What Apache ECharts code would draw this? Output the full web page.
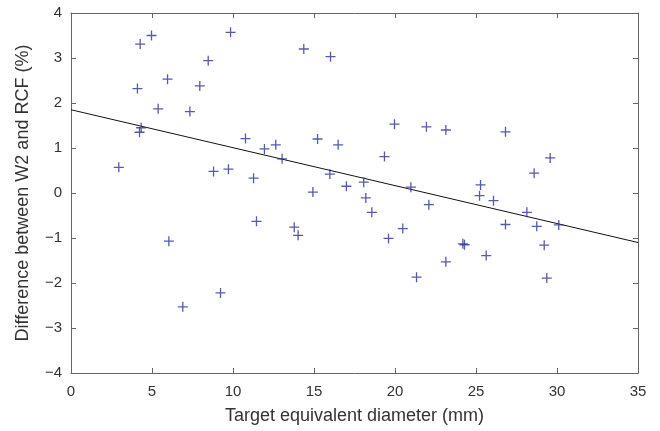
<!DOCTYPE html>
<html>
<head>
<meta charset="utf-8">
<script src="https://cdn.jsdelivr.net/npm/echarts@6/dist/echarts.min.js"></script>
<style>
  html, body { margin: 0; padding: 0; background: #fff; }
  #main { width: 660px; height: 431px; }
</style>
</head>
<body>
<div id="main"></div>
<script>
// measured points: target diameter (mm) vs difference (%)
var diamX = [2.95, 4.27, 4.97, 4.10, 5.96, 5.38, 4.23, 4.33, 8.47, 7.95, 7.34, 9.85,
  10.77, 8.80, 9.72, 11.27, 14.37, 16.02, 19.97, 21.94, 23.14, 15.22, 16.49, 11.94,
  12.64, 13.03, 19.35, 15.98, 14.93, 17.00, 18.07, 20.98, 18.20, 26.82, 29.58, 28.59,
  25.28, 25.22, 6.04, 6.90, 9.23, 11.45, 13.78, 14.02, 18.57, 19.60, 20.48, 22.09,
  23.14, 21.33, 24.19, 24.29, 25.63, 26.08, 26.82, 28.14, 28.75, 29.21, 29.37, 30.11];
var diffY = [0.57, 3.31, 3.50, 2.32, 2.53, 1.87, 1.35, 1.45, 2.94, 2.38, 1.81, 3.57,
  1.21, 0.48, 0.53, 0.33, 3.20, 3.03, 1.53, 1.47, 1.40, 1.20, 1.07, 0.98,
  1.07, 0.76, 0.81, 0.42, 0.02, 0.15, 0.24, 0.13, -0.11, 1.36, 0.78, 0.44,
  0.18, -0.06, -1.07, -2.53, -2.22, -0.63, -0.76, -0.94, -0.43, -1.01, -0.79, -0.26,
  -1.53, -1.87, -1.13, -1.15, -1.39, -0.17, -0.70, -0.43, -0.74, -1.16, -1.89, -0.71];
// fitted line end points
var fitX = [0, 35];
var fitY = [1.85, -1.10];

var points = diamX.map(function (x, i) { return [x, diffY[i]]; });
var fitLine = fitX.map(function (x, i) { return [x, fitY[i]]; });

var axisColor = '#666';
var font = 'Liberation Sans, Arial, sans-serif';

var chart = echarts.init(document.getElementById('main'));
var option = {
  animation: false,
  grid: { left: 71, right: 22, top: 13, bottom: 58 },
  xAxis: [{
    type: 'value', min: 0, max: 35, interval: 5,
    name: 'Target equivalent diameter (mm)', nameLocation: 'middle', nameGap: 34,
    nameTextStyle: { color: '#333', fontSize: 18, fontFamily: font },
    axisLine: { show: true, onZero: false, lineStyle: { color: axisColor } },
    axisTick: { show: true, inside: true, length: 5, lineStyle: { color: axisColor } },
    axisLabel: { color: '#333', fontSize: 15, fontFamily: font, margin: 11 },
    splitLine: { show: false }
  }, {
    type: 'value', position: 'top', min: 0, max: 35, interval: 5,
    axisLine: { show: true, onZero: false, lineStyle: { color: axisColor } },
    axisTick: { show: true, inside: true, length: 5, lineStyle: { color: axisColor } },
    axisLabel: { show: false },
    splitLine: { show: false }
  }],
  yAxis: [{
    type: 'value', min: -4, max: 4, interval: 1,
    name: 'Difference between W2 and RCF (%)', nameLocation: 'middle', nameGap: 39,
    nameTextStyle: { color: '#333', fontSize: 18, fontFamily: font },
    axisLine: { show: true, onZero: false, lineStyle: { color: axisColor } },
    axisTick: { show: true, inside: true, length: 5, lineStyle: { color: axisColor } },
    axisLabel: {
      color: '#333', fontSize: 15, fontFamily: font, margin: 9,
      formatter: function (v) { return v < 0 ? '\u2212' + Math.abs(v) : String(v); }
    },
    splitLine: { show: false }
  }, {
    type: 'value', position: 'right', min: -4, max: 4, interval: 1,
    axisLine: { show: true, onZero: false, lineStyle: { color: axisColor } },
    axisTick: { show: true, inside: true, length: 5, lineStyle: { color: axisColor } },
    axisLabel: { show: false },
    splitLine: { show: false }
  }],
  series: [{
    type: 'scatter',
    data: points,
    symbol: 'path://M5,0L5,10M0,5L10,5',
    symbolSize: 10,
    itemStyle: { color: 'transparent', borderColor: '#2b3196', borderWidth: 1.3 },
    z: 3
  }, {
    type: 'line',
    data: fitLine,
    symbol: 'none',
    lineStyle: { color: '#111', width: 1 },
    z: 2
  }]
};
chart.setOption(option);
</script>
</body>
</html>
